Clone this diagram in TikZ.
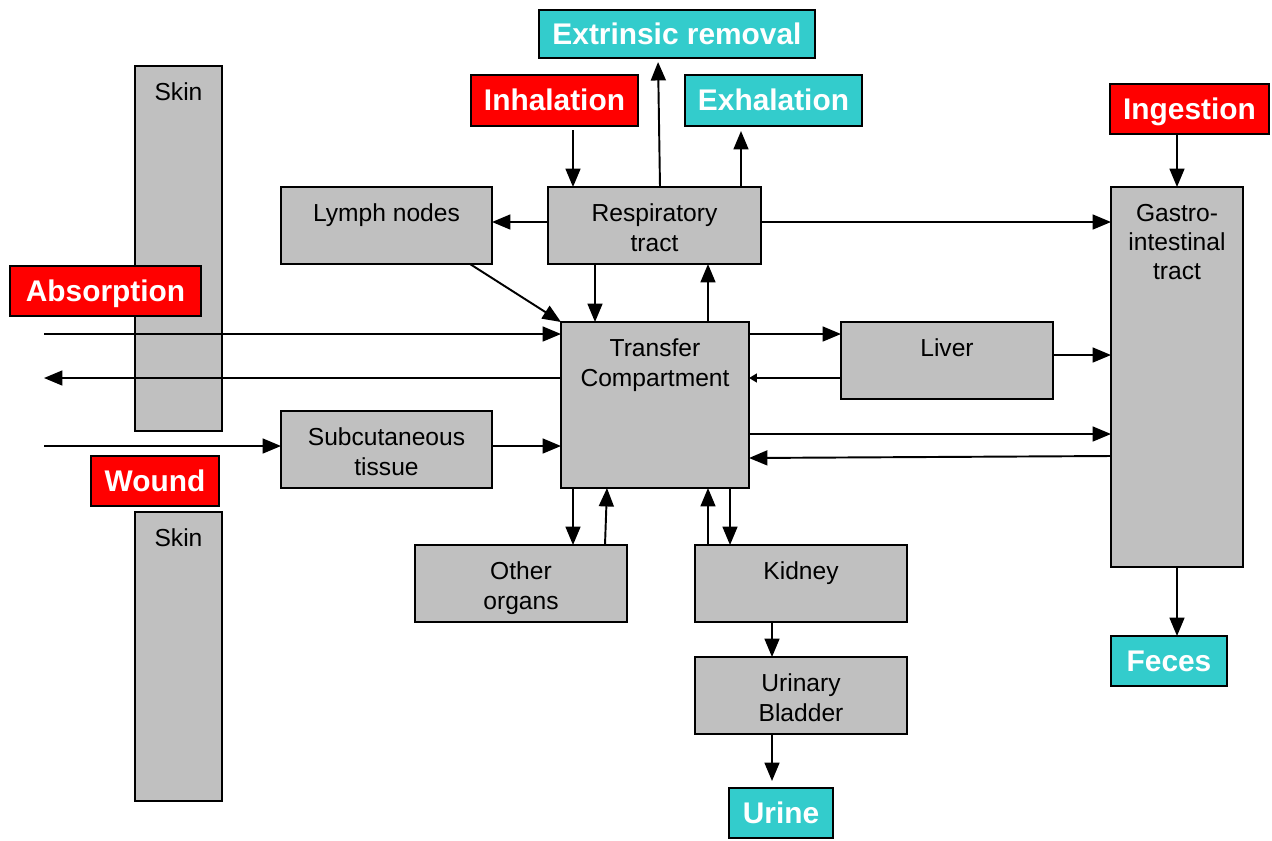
\documentclass[tikz,border=0pt]{standalone}
\usepackage{fontspec}
\setmainfont{Liberation Sans}
\usetikzlibrary{arrows.meta}
\definecolor{organgray}{HTML}{C0C0C0}
\definecolor{intakered}{HTML}{FF0000}
\definecolor{outletcyan}{HTML}{33CCCC}
\tikzset{
  dim/.style 2 args={minimum width=#1*0.02cm, minimum height=#2*0.02cm},
  organ/.style={draw, line width=1.2pt, fill=organgray, inner sep=0pt, outer sep=0pt},
  intext/.style={label={[anchor=north, yshift=-0.33cm, inner sep=0pt, align=center,
      font=\fontsize{14}{16.7}\selectfont]north:#1}},
  tag/.style={draw, line width=1.2pt, inner sep=0pt, outer sep=0pt, text=white,
      text height=11.5pt, text depth=0pt, font=\fontsize{17}{20}\selectfont\bfseries},
  inbox/.style={tag, fill=intakered},
  outbox/.style={tag, fill=outletcyan},
  flow/.style={-{Triangle[length=10.5pt,width=8.5pt]}, line width=1.1pt},
  thinflow/.style={-{Triangle[length=4.5pt,width=5pt]}, line width=1.1pt}
}
\begin{document}
\begin{tikzpicture}[x=0.02cm, y=-0.02cm]
    \useasboundingbox (0,0) rectangle (1272,840);
    % skin layers
    \node[organ, dim={87}{365}, intext=Skin] (skinA) at (178.5,248.5) {};
    \node[organ, dim={87}{289}, intext=Skin] (skinB) at (178.5,656.5) {};
    % compartments
    \node[organ, dim={211}{77}, intext={Lymph nodes}] (lym) at (386.5,225.5) {};
    \node[organ, dim={213}{77}, intext={Respiratory\\tract}] (resp) at (654.5,225.5) {};
    \node[organ, dim={132}{380}, intext={Gastro-\\intestinal\\tract}] (gi) at (1177,377) {};
    \node[organ, dim={188}{166}, intext={Transfer\\Compartment}] (tc) at (655,405) {};
    \node[organ, dim={212}{77}, intext=Liver] (liv) at (947,360.5) {};
    \node[organ, dim={211}{77}, intext={Subcutaneous\\tissue}] (sub) at (386.5,449.5) {};
    \node[organ, dim={212}{77}, intext={Other\\organs}] (oth) at (521,583.5) {};
    \node[organ, dim={212}{77}, intext=Kidney] (kid) at (801,583.5) {};
    \node[organ, dim={212}{77}, intext={Urinary\\Bladder}] (bla) at (801,695.5) {};
    % intakes and outlets
    \node[outbox, dim={276}{48}] (xr) at (677,34) {Extrinsic removal};
    \node[inbox, dim={167}{51}] (inh) at (554.5,100.5) {Inhalation};
    \node[outbox, dim={177}{51}] (exh) at (773.5,100.5) {Exhalation};
    \node[inbox, dim={159}{50}] (ing) at (1189.5,109) {Ingestion};
    \node[inbox, dim={191}{50}] (abs) at (105.5,291) {Absorption};
    \node[inbox, dim={128}{50}] (wnd) at (155,481) {Wound};
    \node[outbox, dim={116}{50}] (fec) at (1169,661) {Feces};
    \node[outbox, dim={104}{50}] (uri) at (781,813) {Urine};
    \coordinate (absin) at (44,334);
    \coordinate (absout) at (44,378);
    \coordinate (wndin) at (44,446);
    % respiratory routes
    \draw[flow, shorten <=0.08cm] ([shift={(18.5,0)}]inh.south) -- ([shift={(-81.5,0)}]resp.north);
    \draw[flow, shorten >=0.08cm] ([shift={(5.5,0)}]resp.north) -- ([shift={(-19,0)}]xr.south);
    \draw[flow, shorten >=0.1cm] ([shift={(86.5,0)}]resp.north) -- ([shift={(-32.5,0)}]exh.south);
    \draw[flow] ([shift={(0,-3.5)}]resp.west) -- ([shift={(0,-3.5)}]lym.east);
    \draw[flow] ([shift={(0,-3.5)}]resp.east) -- ([shift={(0,35)}]gi.north west);
    \draw[flow] ([shift={(-22,0)}]lym.south east) -- (tc.north west);
    \draw[flow] ([shift={(-59.5,0)}]resp.south) -- ([shift={(-60,0)}]tc.north);
    \draw[flow] ([shift={(53,0)}]tc.north) -- ([shift={(53.5,0)}]resp.south);
    % skin routes
    \draw[flow] (absin) -- ([shift={(0,12)}]tc.north west);
    \draw[flow] ([shift={(0,-27)}]tc.west) -- (absout);
    \draw[flow] (wndin) -- ([shift={(0,-3.5)}]sub.west);
    \draw[flow] ([shift={(0,-3.5)}]sub.east) -- ([shift={(0,41)}]tc.west);
    % liver and gut
    \draw[flow] ([shift={(0,12)}]tc.north east) -- ([shift={(0,-26.5)}]liv.west);
    \draw[thinflow] ([shift={(0,17.5)}]liv.west) -- ([shift={(0,-27)}]tc.east);
    \draw[flow] ([shift={(0,-5.5)}]liv.east) -- ([shift={(0,-22)}]gi.west);
    \draw[flow] ([shift={(0,29)}]tc.east) -- ([shift={(0,57)}]gi.west);
    \draw[flow] ([shift={(0,79)}]gi.west) -- ([shift={(0,53)}]tc.east);
    \draw[flow] ([shift={(-12.5,0)}]ing.south) -- (gi.north);
    \draw[flow] (gi.south) -- ([shift={(8,0)}]fec.north);
    % organs and excretion
    \draw[flow] ([shift={(-82,0)}]tc.south) -- ([shift={(52,0)}]oth.north);
    \draw[flow] ([shift={(84,0)}]oth.north) -- ([shift={(-48,0)}]tc.south);
    \draw[flow] ([shift={(-93,0)}]kid.north) -- ([shift={(53,0)}]tc.south);
    \draw[flow] ([shift={(75,0)}]tc.south) -- ([shift={(-71,0)}]kid.north);
    \draw[flow] ([shift={(-29,0)}]kid.south) -- ([shift={(-29,0)}]bla.north);
    \draw[flow, shorten >=0.14cm] ([shift={(-29,0)}]bla.south) -- ([shift={(-9,0)}]uri.north);
\end{tikzpicture}
\end{document}
